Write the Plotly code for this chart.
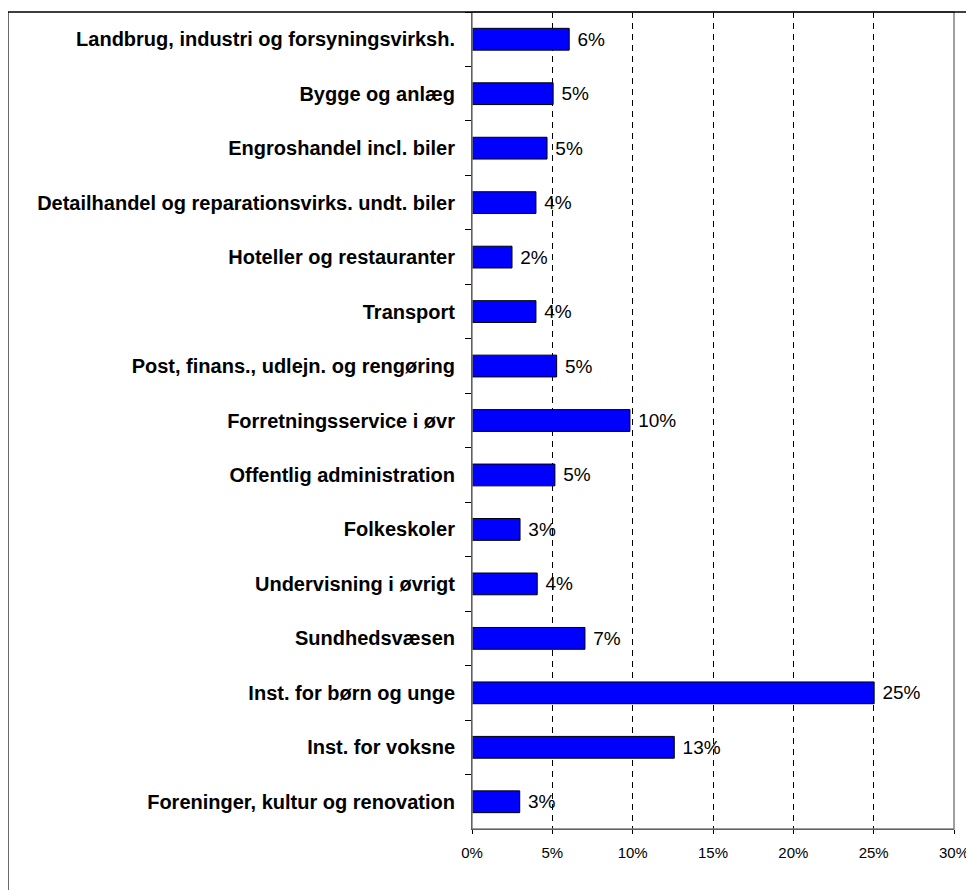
import plotly.graph_objects as go

categories = [
    'Landbrug, industri og forsyningsvirksh.',
    'Bygge og anlæg',
    'Engroshandel incl. biler',
    'Detailhandel og reparationsvirks. undt. biler',
    'Hoteller og restauranter',
    'Transport',
    'Post, finans., udlejn. og rengøring',
    'Forretningsservice i øvr',
    'Offentlig administration',
    'Folkeskoler',
    'Undervisning i øvrigt',
    'Sundhedsvæsen',
    'Inst. for børn og unge',
    'Inst. for voksne',
    'Foreninger, kultur og renovation',
]
shares = [6.05, 5.05, 4.67, 3.98, 2.49, 3.98, 5.27, 9.83, 5.16, 2.99, 4.06, 7.03, 25.03, 12.59, 2.97]
tick_vals = [0, 5, 10, 15, 20, 25, 30]
tick_text = ['0%', '5%', '10%', '15%', '20%', '25%', '30%']

fig = go.Figure()
fig.add_trace(
    go.Bar(x=shares,
           y=categories,
           orientation='h',
           width=0.4,
           marker=dict(color='#0000FF', line=dict(color='#000000', width=1)),
           texttemplate=' %{x:.0f}%',
           textposition='outside',
           textfont=dict(family='Arial', size=19, color='#000000'),
           constraintext='none',
           cliponaxis=False,
           hoverinfo='skip')
)

# the page body adds 8px, so margins are shifted to compensate
fig.update_layout(
    width=974, height=890,
    margin=dict(l=464, r=28, t=4, b=69),
    paper_bgcolor='white', plot_bgcolor='white',
    showlegend=False,
    font=dict(family='Arial', color='#000000'),
)
fig.update_xaxes(range=[0, 30], tickvals=tick_vals, ticktext=tick_text,
                 showgrid=True, gridcolor='#000000', gridwidth=1, griddash='6px,5px',
                 showline=True, linecolor='#000000', linewidth=1,
                 ticks='outside', ticklen=4, tickcolor='#000000',
                 tickfont=dict(family='Arial', size=15, color='#000000'),
                 ticklabelstandoff=6, zeroline=False)
fig.update_yaxes(autorange='reversed', tickson='boundaries',
                 showline=True, linecolor='#000000', linewidth=1,
                 ticks='outside', ticklen=6, tickcolor='#000000',
                 tickfont=dict(family='Arial', size=20, weight='bold', color='#000000'),
                 ticklabelstandoff=12, showgrid=False)

# plot area border (gray) and outer chart frame
fig.add_shape(type='rect', xref='paper', yref='paper', x0=0, x1=1, y0=0, y1=1,
              line=dict(color='#808080', width=1.5), layer='above')
fig.add_shape(type='rect', xref='paper', yref='paper', x0=-0.963, x1=1.039, y0=-0.1, y1=1.0,
              line=dict(color='#000000', width=1.5), layer='above')

fig.write_html('out.html')
